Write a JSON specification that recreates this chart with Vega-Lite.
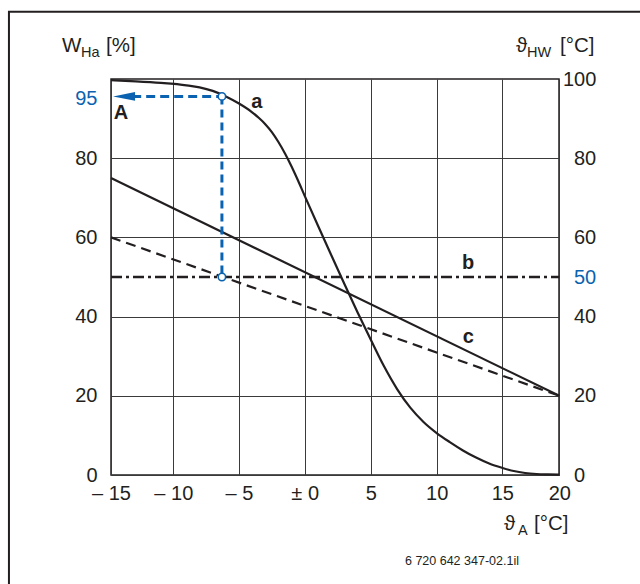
{
  "$schema": "https://vega.github.io/schema/vega-lite/v6.json",
  "width": 448,
  "height": 396,
  "autosize": {"type": "none"},
  "padding": {"left": 111, "top": 79, "right": 81, "bottom": 109},
  "background": "white",
  "config": {
    "font": "Liberation Sans",
    "view": {"stroke": "#231f20", "strokeWidth": 1.5},
    "axis": {
      "labelFont": "Liberation Sans",
      "labelFontSize": 20,
      "labelColor": "#231f20",
      "labelFlush": false,
      "labelOverlap": false,
      "ticks": false,
      "tickSize": 0,
      "domain": false,
      "title": null
    }
  },
  "datasets": {
    "curve": [
      {"t": -15, "w": 99.7}, {"t": -13, "w": 99.4}, {"t": -11, "w": 99.0}, {"t": -9, "w": 98.4},
      {"t": -8, "w": 97.9}, {"t": -7, "w": 97.0}, {"t": -6, "w": 95.6}, {"t": -5, "w": 93.8},
      {"t": -4, "w": 91.6}, {"t": -3.5, "w": 90.2}, {"t": -3, "w": 88.6}, {"t": -2.5, "w": 86.6},
      {"t": -2, "w": 84.1}, {"t": -1.5, "w": 81.2}, {"t": -1, "w": 77.9}, {"t": -0.5, "w": 74.3},
      {"t": 0, "w": 70.5}, {"t": 1, "w": 63.0}, {"t": 2, "w": 55.6}, {"t": 3, "w": 48.3},
      {"t": 4, "w": 41.1}, {"t": 5, "w": 34.2}, {"t": 6, "w": 27.5}, {"t": 7, "w": 21.7},
      {"t": 8, "w": 17.0}, {"t": 9, "w": 13.4}, {"t": 10, "w": 10.6}, {"t": 11, "w": 8.3},
      {"t": 12, "w": 6.2}, {"t": 13, "w": 4.4}, {"t": 14, "w": 2.9}, {"t": 15, "w": 1.8},
      {"t": 16, "w": 1.0}, {"t": 17, "w": 0.5}, {"t": 18, "w": 0.25}, {"t": 19, "w": 0.15}, {"t": 20, "w": 0.1}
    ],
    "solid": [{"t": -15, "w": 75}, {"t": 20, "w": 20}],
    "dashc": [{"t": -15, "w": 60}, {"t": 20, "w": 20}],
    "lineb": [{"t": -15, "w": 50}, {"t": 20, "w": 50}],
    "bluev": [{"t": -6.3, "w": 95.6}, {"t": -6.3, "w": 50}],
    "blueh": [{"t": -6.3, "w": 95.6}, {"t": -13.3, "w": 95.6}],
    "arrow": [{"t": -13.95, "w": 95.6}],
    "circles": [{"t": -6.3, "w": 95.6}, {"t": -6.3, "w": 50}],
    "labels": [
      {"t": -14.2, "w": 91.3, "txt": "A"},
      {"t": -3.65, "w": 94.3, "txt": "a"},
      {"t": 12.4, "w": 53.5, "txt": "b"},
      {"t": 12.4, "w": 34.9, "txt": "c"}
    ],
    "titles": [
      {"t": -18.93, "w": 106.7, "txt": "W"},
      {"t": -15.4, "w": 106.7, "txt": "[%]"},
      {"t": 16.2, "w": 106.7, "txt": "ϑ"},
      {"t": 20.06, "w": 106.7, "txt": "[°C]"},
      {"t": 15.15, "w": -14.0, "txt": "ϑ"},
      {"t": 17.78, "w": -14.0, "txt": "[°C]"}
    ],
    "subs": [
      {"t": -17.41, "w": 105.6, "txt": "Ha"},
      {"t": 17.17, "w": 105.6, "txt": "HW"},
      {"t": 16.38, "w": -15.15, "txt": "A"}
    ],
    "foot": [{"t": 16.46, "w": -22.7, "txt": "6 720 642 347-02.1il"}],
    "frame": [{"t": -23.19, "t2": 32, "w": 117.0, "w2": -40}]
  },
  "layer": [
    {
      "data": {"name": "curve"},
      "mark": {"type": "line", "color": "#231f20", "strokeWidth": 2.2, "interpolate": "monotone"},
      "encoding": {
        "x": {
          "field": "t", "type": "quantitative", "title": null,
          "scale": {"domain": [-15, -10, -5, 0, 5, 10, 15, 20], "range": [0, 62.3, 128, 193.7, 259.7, 325.7, 391.3, 448.3], "nice": false, "zero": false},
          "axis": {
            "values": [-15, -10, -5, 0, 5, 10, 15, 20],
            "labelExpr": "datum.value < 0 ? '– ' + abs(datum.value) : (datum.value == 0 ? '± 0' : '' + datum.value)",
            "labelPadding": 8,
            "grid": true,
            "gridColor": "#3a3a3a",
            "gridWidth": 1
          }
        },
        "y": {
          "field": "w", "type": "quantitative",
          "scale": {"domain": [0, 100], "nice": false, "zero": false},
          "axis": {
            "orient": "left",
            "values": [0, 20, 40, 60, 80, 95],
            "labelPadding": 14,
            "labelColor": {"condition": {"test": "datum.value == 95", "value": "#0a62b0"}, "value": "#231f20"},
            "grid": true,
            "gridColor": {"condition": {"test": "datum.value == 95", "value": "transparent"}, "value": "#3a3a3a"},
            "gridWidth": 1
          }
        }
      }
    },
    {
      "data": {"name": "solid"},
      "mark": {"type": "line", "color": "#231f20", "strokeWidth": 2.2},
      "encoding": {
        "x": {"field": "t", "type": "quantitative", "title": null},
        "y": {
          "field": "w", "type": "quantitative",
          "axis": {
            "orient": "right",
            "values": [0, 20, 40, 50, 60, 80, 100],
            "grid": false,
            "labelPadding": {"condition": {"test": "datum.value == 100", "value": 3.5}, "value": 14.5},
            "labelColor": {"condition": {"test": "datum.value == 50", "value": "#0a62b0"}, "value": "#231f20"}
          }
        }
      }
    },
    {
      "data": {"name": "dashc"},
      "mark": {"type": "line", "color": "#231f20", "strokeWidth": 2.2, "strokeDash": [10, 6]},
      "encoding": {
        "x": {"field": "t", "type": "quantitative", "title": null},
        "y": {"field": "w", "type": "quantitative", "axis": null}
      }
    },
    {
      "data": {"name": "lineb"},
      "mark": {"type": "line", "color": "#231f20", "strokeWidth": 2.4, "strokeDash": [11, 4, 3, 4]},
      "encoding": {
        "x": {"field": "t", "type": "quantitative", "title": null},
        "y": {"field": "w", "type": "quantitative", "axis": null}
      }
    },
    {
      "data": {"name": "bluev"},
      "mark": {"type": "line", "color": "#0a62b0", "strokeWidth": 3, "strokeDash": [8, 5]},
      "encoding": {
        "x": {"field": "t", "type": "quantitative", "title": null},
        "y": {"field": "w", "type": "quantitative", "axis": null}
      }
    },
    {
      "data": {"name": "blueh"},
      "mark": {"type": "line", "color": "#0a62b0", "strokeWidth": 3, "strokeDash": [9, 5]},
      "encoding": {
        "x": {"field": "t", "type": "quantitative", "title": null},
        "y": {"field": "w", "type": "quantitative", "axis": null}
      }
    },
    {
      "data": {"name": "arrow"},
      "mark": {"type": "point", "shape": "M-1,0L1,-0.4L1,0.4Z", "size": 484, "filled": true, "color": "#0a62b0", "opacity": 1},
      "encoding": {
        "x": {"field": "t", "type": "quantitative", "title": null},
        "y": {"field": "w", "type": "quantitative", "axis": null}
      }
    },
    {
      "data": {"name": "circles"},
      "mark": {"type": "point", "shape": "circle", "size": 55, "filled": true, "fill": "white", "stroke": "#0a62b0", "strokeWidth": 1.6, "opacity": 1},
      "encoding": {
        "x": {"field": "t", "type": "quantitative", "title": null},
        "y": {"field": "w", "type": "quantitative", "axis": null}
      }
    },
    {
      "data": {"name": "labels"},
      "mark": {"type": "text", "font": "Liberation Sans", "fontSize": 20, "fontWeight": "bold", "color": "#231f20", "align": "center", "baseline": "middle"},
      "encoding": {
        "x": {"field": "t", "type": "quantitative", "title": null},
        "y": {"field": "w", "type": "quantitative", "axis": null},
        "text": {"field": "txt"}
      }
    },
    {
      "data": {"name": "titles"},
      "mark": {"type": "text", "font": "Liberation Sans", "fontSize": 20.5, "color": "#231f20", "align": "left", "baseline": "alphabetic"},
      "encoding": {
        "x": {"field": "t", "type": "quantitative", "title": null},
        "y": {"field": "w", "type": "quantitative", "axis": null},
        "text": {"field": "txt"}
      }
    },
    {
      "data": {"name": "subs"},
      "mark": {"type": "text", "font": "Liberation Sans", "fontSize": 14.5, "color": "#231f20", "align": "left", "baseline": "alphabetic"},
      "encoding": {
        "x": {"field": "t", "type": "quantitative", "title": null},
        "y": {"field": "w", "type": "quantitative", "axis": null},
        "text": {"field": "txt"}
      }
    },
    {
      "data": {"name": "foot"},
      "mark": {"type": "text", "font": "Liberation Sans", "fontSize": 12.5, "color": "#231f20", "align": "right", "baseline": "alphabetic"},
      "encoding": {
        "x": {"field": "t", "type": "quantitative", "title": null},
        "y": {"field": "w", "type": "quantitative", "axis": null},
        "text": {"field": "txt"}
      }
    },
    {
      "data": {"name": "frame"},
      "mark": {"type": "rect", "fill": null, "fillOpacity": 0, "stroke": "#231f20", "strokeWidth": 2},
      "encoding": {
        "x": {"field": "t", "type": "quantitative", "title": null},
        "x2": {"field": "t2"},
        "y": {"field": "w", "type": "quantitative", "axis": null},
        "y2": {"field": "w2"}
      }
    }
  ],
  "resolve": {"scale": {"x": "shared", "y": "shared"}, "axis": {"y": "independent"}}
}
